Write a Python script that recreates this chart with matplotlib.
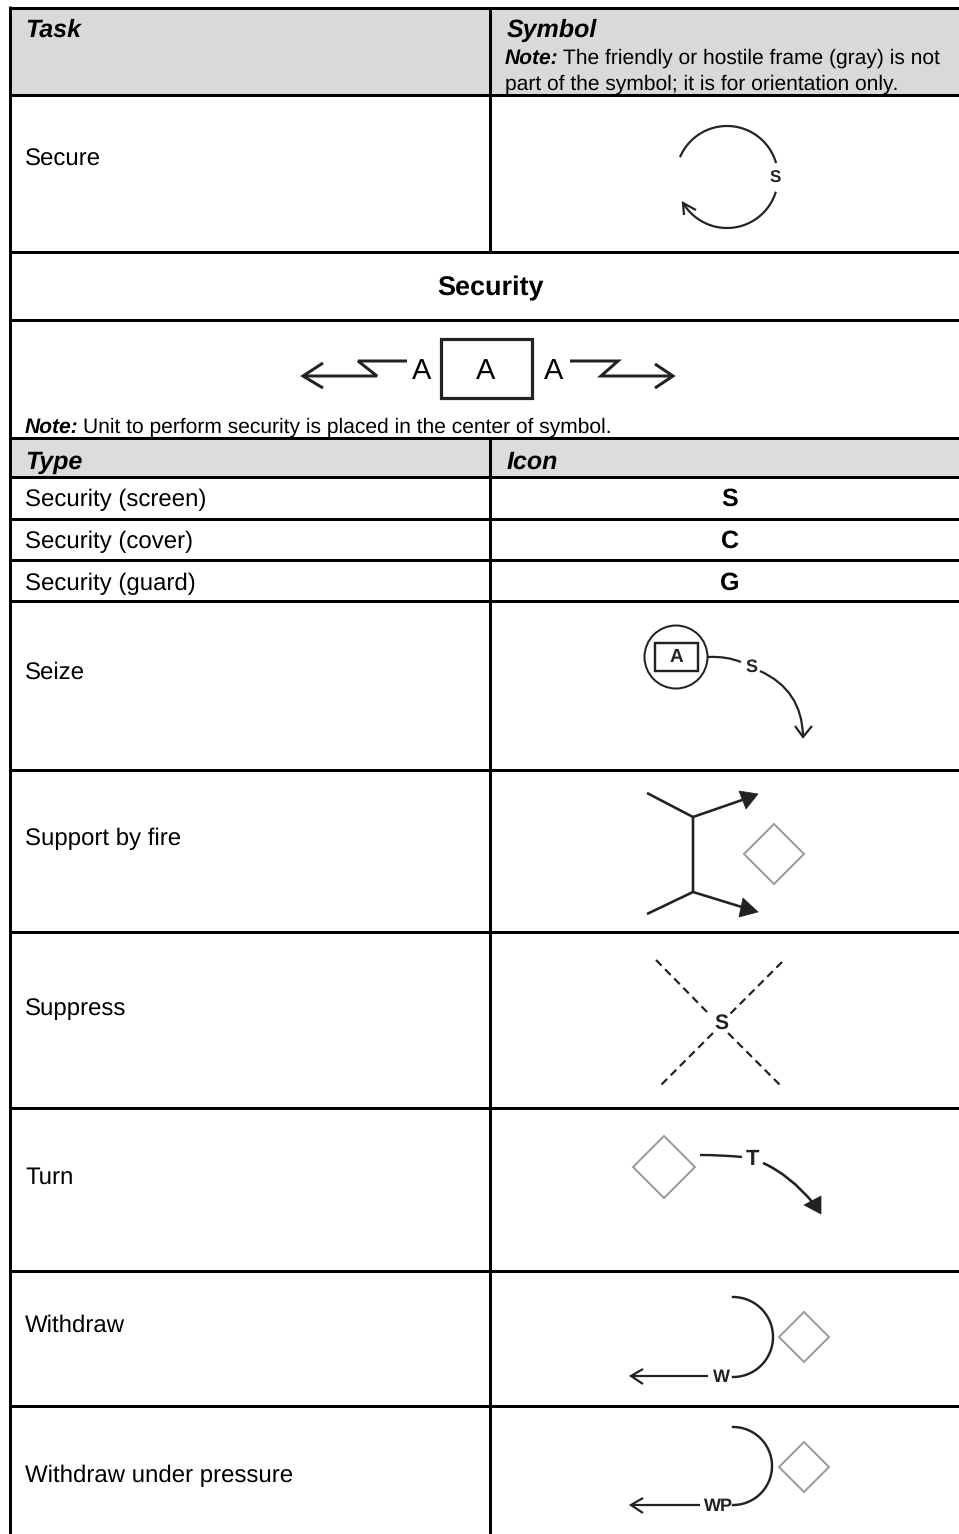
#!/usr/bin/env python3
"""Task / symbol table page redrawn in pixel coordinates"""
import numpy as np
import matplotlib
matplotlib.use('Agg')
import matplotlib.pyplot as plt
from matplotlib.path import Path
from matplotlib.patches import PathPatch, Polygon, Circle, Rectangle

plt.rcParams['font.family'] = ['Liberation Sans', 'DejaVu Sans']
plt.rcParams['text.hinting'] = 'no_hinting'
plt.rcParams['text.hinting_factor'] = 1

W, H = 959, 1534
LW = 0.72  # 1 px in points at dpi 100
INK = '#222222'
FRAME = '#9a9ca0'
SIZE = 17.2
HEAD = 18
NOTE = 15.35

# table
row_lines = [7.5, 95, 252, 320, 438, 477, 519, 560, 601, 770, 932, 1108, 1271, 1406]
divider_spans = [(7, 252), (438, 1534)]
gray_rows = [(7, 95, '#d9d9d9'), (438, 477, '#dcdcdc')]
task_labels = ['Secure', 'Seize', 'Support by fire', 'Suppress', 'Turn', 'Withdraw',
               'Withdraw under pressure']
task_y = [157, 670, 836, 1006, 1175, 1323, 1473]
type_labels = ['Security (screen)', 'Security (cover)', 'Security (guard)']
icon_labels = ['S', 'C', 'G']
type_y = [497, 539, 581]

fig = plt.figure(figsize=(W / 100, H / 100), dpi=100)
ax = fig.add_axes([0, 0, 1, 1])
ax.set_xlim(0, W)
ax.set_ylim(H, 0)
ax.axis('off')


def line(xs, ys, px=2.0, color=INK, **kw):
    ax.plot(xs, ys, color=color, lw=px * LW, solid_capstyle='butt', solid_joinstyle='miter', **kw)


def curve(p0, c, p1, px=2.2):
    # 二次贝塞尔
    ax.add_patch(PathPatch(Path([p0, c, p1], [Path.MOVETO, Path.CURVE3, Path.CURVE3]),
                           fc='none', ec=INK, lw=px * LW))


def arc(cx, cy, r, t0, t1, px=2.2):
    t = np.radians(np.linspace(t0, t1, 80))
    ax.plot(cx + r * np.cos(t), cy + r * np.sin(t), color=INK, lw=px * LW)


def open_head(tip, a, b, px=2.2):
    line([a[0], tip[0], b[0]], [a[1], tip[1], b[1]], px=px)


def diamond(cx, cy, h):
    ax.add_patch(Polygon([(cx - h, cy), (cx, cy - h), (cx + h, cy), (cx, cy + h)], closed=True,
                         fc='white', ec=FRAME, lw=2 * LW))


def txt(x, y, s, size=SIZE, ha='left', **kw):
    return ax.text(x, y, s, fontsize=size, ha=ha, va='center_baseline', color='black', **kw)


def note_line(x, y, s):
    t = txt(x, y, 'Note:', size=NOTE, fontweight='bold', fontstyle='italic')
    box = t.get_window_extent(fig.canvas.get_renderer())
    txt(box.x1 + 4, y, s, size=NOTE)


def sym(x, y, s, size=13):
    ax.text(x, y, s, fontsize=size, ha='center', va='center', fontweight='bold', color=INK)


# 底色
for y0, y1, c in gray_rows:
    ax.add_patch(Rectangle((9, y0), W - 9, y1 - y0, fc=c, ec='none'))

# 网格线
for y in row_lines:
    ax.plot([8.5, W], [y, y], color='black', lw=3 * LW, solid_capstyle='butt')
ax.plot([10, 10], [6, H], color='black', lw=3 * LW, solid_capstyle='butt')
for y0, y1 in divider_spans:
    ax.plot([489.5, 489.5], [y0, y1], color='black', lw=3 * LW, solid_capstyle='butt')

# 文字
txt(25, 28, 'Task', size=HEAD, fontweight='bold', fontstyle='italic')
txt(507, 28, 'Symbol', size=HEAD, fontweight='bold', fontstyle='italic')
note_line(505, 56, 'The friendly or hostile frame (gray) is not')
txt(505, 82, 'part of the symbol; it is for orientation only.', size=NOTE)
txt(490, 286, 'Security', size=19.3, ha='center', fontweight='bold')
note_line(25, 425, 'Unit to perform security is placed in the center of symbol.')
txt(25, 460, 'Type', size=HEAD, fontweight='bold', fontstyle='italic')
txt(507, 460, 'Icon', size=HEAD, fontweight='bold', fontstyle='italic')
for s, y in zip(task_labels, task_y):
    txt(25, y, s)
for s, icon, y in zip(type_labels, icon_labels, type_y):
    txt(25, y, s)
    txt(730, y, icon, size=HEAD, ha='center', fontweight='bold')

# Secure
arc(727, 177, 51, 204, 343)
arc(727, 177, 51, 18, 149)
open_head((683, 203), (684, 215), (696, 210))
sym(775, 178, 'S', 12)

# Security
ax.add_patch(Rectangle((440.5, 338.5), 91.5, 59.5, fc='none', ec=INK, lw=3.2 * LW))
for x in [422, 486, 554]:
    txt(x, 368, 'A', ha='center', size=21)
line([303, 377, 358, 407], [376, 376, 361, 361], px=3)
line([570, 618, 601, 673], [361, 361, 376, 376], px=3)
open_head((303, 376), (323, 363), (323, 388), px=3)
open_head((673, 376), (655, 364), (655, 388), px=3)

# Seize
ax.add_patch(Circle((676, 657), 31.5, fc='none', ec=INK, lw=2 * LW))
ax.add_patch(Rectangle((655, 643), 43, 28, fc='none', ec=INK, lw=2.4 * LW))
sym(676, 657, 'A', 13.4)
curve((708, 657), (726, 656), (741, 662))
sym(751, 667, 'S', 13)
curve((760, 671), (802, 690), (803, 736))
open_head((803, 737), (795, 726), (812, 726))

# Support by fire
line([647, 693, 693, 647], [793, 817, 892, 914], px=2.6)
line([693, 745], [817, 799], px=2.6)
line([693, 745], [892, 908], px=2.6)
ax.add_patch(Polygon([(758, 794), (739, 791), (746, 809)], closed=True, fc=INK, ec=INK, lw=0.5))
ax.add_patch(Polygon([(758, 912), (743, 898), (739, 917)], closed=True, fc=INK, ec=INK, lw=0.5))
diamond(774, 854, 30)

# Suppress
for xs, ys in [([656, 708], [960, 1013]), ([728, 781], [1033, 1086]),
               ([782, 729], [962, 1015]), ([713, 660], [1033, 1086])]:
    ax.plot(xs, ys, color=INK, lw=2.2 * LW, ls=(0, (3.6, 2.3)), dash_capstyle='butt')
sym(721, 1023, 'S', 15)

# Turn
diamond(664, 1167, 31)
curve((700, 1155), (722, 1155), (742, 1157), px=2.4)
sym(752, 1159, 'T', 15.5)
curve((763, 1163), (790, 1175), (814, 1204), px=2.6)
ax.add_patch(Polygon([(821, 1214), (804, 1205), (821, 1196)], closed=True, fc=INK, ec=INK, lw=0.5))

# Withdraw
arc(733, 1337, 40, -90, 90, px=2.4)
line([708, 632], [1376, 1376], px=2.2)
open_head((631, 1376), (643, 1369), (643, 1384))
sym(721, 1377, 'W', 13)
diamond(804, 1337, 25)

# Withdraw under pressure
arc(733, 1466, 39, -90, 90, px=2.4)
line([700, 632], [1505, 1505], px=2.2)
open_head((631, 1505), (643, 1498), (643, 1513))
sym(718, 1506, 'WP', 13)
diamond(804, 1467, 25)

plt.savefig('out.png', dpi=100)
